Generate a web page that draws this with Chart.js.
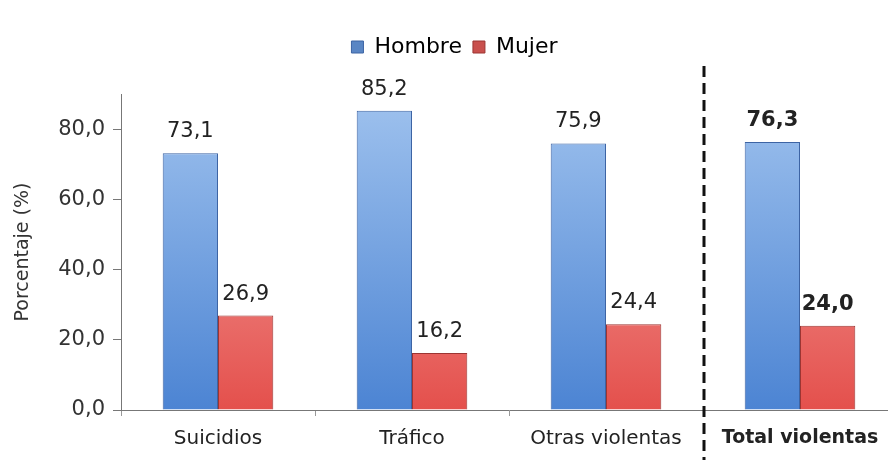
<!DOCTYPE html>
<html>
<head>
<meta charset="utf-8">
<script src="https://cdn.jsdelivr.net/npm/chart.js@4/dist/chart.umd.min.js"></script>
<style>
    html, body { margin: 0; padding: 0; background: #fff; }
    #wrap { width: 888px; height: 460px; overflow: hidden; position: relative; }
    #wrap canvas { display: block; }
</style>
</head>
<body>
<div id="wrap"><canvas id="causas" width="900" height="460"></canvas></div>
<script>
const categories = ["Suicidios", "Tráfico", "Otras violentas", "Total violentas"];
const hombre = [73.1, 85.2, 75.9, 76.3];
const mujer = [26.9, 16.2, 24.4, 24.0];
const yTicks = [0, 20, 40, 60, 80];

const FONT = "'DejaVu Sans', Verdana, sans-serif";

function fmt(v) {
    return v.toFixed(1).replace(".", ",");
}

function barGradient(ctx, top, bottom) {
    const area = ctx.chart.chartArea;
    if (!area) return bottom;
    const g = ctx.chart.ctx.createLinearGradient(0, area.top, 0, area.bottom);
    g.addColorStop(0, top);
    g.addColorStop(1, bottom);
    return g;
}

// value labels above the bars, last category in bold
const valueLabels = {
    id: "valueLabels",
    afterDatasetsDraw(chart) {
        const ctx = chart.ctx;
        ctx.save();
        ctx.fillStyle = "#222";
        ctx.textAlign = "center";
        ctx.textBaseline = "bottom";
        chart.data.datasets.forEach((ds, di) => {
            chart.getDatasetMeta(di).data.forEach((bar, i) => {
                const bold = i === categories.length - 1 ? "bold " : "";
                ctx.font = bold + "21px " + FONT;
                ctx.fillText(fmt(ds.data[i]), bar.x, bar.y - 11);
            });
        });
        ctx.restore();
    }
};

// dashed separator before the total
const separator = {
    id: "separator",
    afterDraw(chart) {
        const x = chart.scales.x;
        const px = (x.getPixelForValue(2) + x.getPixelForValue(3)) / 2 + 1;
        const ctx = chart.ctx;
        ctx.save();
        ctx.strokeStyle = "#111";
        ctx.lineWidth = 3;
        ctx.setLineDash([11, 6]);
        ctx.beginPath();
        ctx.moveTo(px, 66);
        ctx.lineTo(px, chart.height);
        ctx.stroke();
        ctx.restore();
    }
};

// extra room under the legend
const legendGap = {
    id: "legendGap",
    beforeInit(chart) {
        const fit = chart.legend.fit;
        chart.legend.fit = function () {
            fit.call(this);
            this.height += 26;
        };
    }
};

new Chart("causas", {
    type: "bar",
    data: {
        labels: categories,
        datasets: [{
            label: "Hombre",
            data: hombre,
            backgroundColor: (c) => barGradient(c, "#9fc2ee", "#4c84d3"),
            borderColor: "#3d64a4",
            borderWidth: 1,
            categoryPercentage: 0.57,
            barPercentage: 1.0
        }, {
            label: "Mujer",
            data: mujer,
            backgroundColor: (c) => barGradient(c, "#f6b0ae", "#e4504c"),
            borderColor: "#9c3532",
            borderWidth: 1,
            categoryPercentage: 0.57,
            barPercentage: 1.0
        }]
    },
    options: {
        responsive: false,
        animation: false,
        layout: {
            padding: { top: 25, right: 3, left: 12, bottom: 0 }
        },
        plugins: {
            legend: {
                labels: {
                    boxWidth: 12,
                    boxHeight: 12,
                    padding: 11,
                    color: "#222",
                    font: { size: 22, family: FONT },
                    generateLabels: () => [
                        { text: "Hombre", fillStyle: "#5a86c4", strokeStyle: "#3d64a4", lineWidth: 1, datasetIndex: 0 },
                        { text: "Mujer", fillStyle: "#c9504d", strokeStyle: "#9c3532", lineWidth: 1, datasetIndex: 1 }
                    ]
                }
            },
            tooltip: { enabled: false }
        },
        scales: {
            y: {
                min: 0,
                max: 90,
                afterBuildTicks: (scale) => {
                    scale.ticks = yTicks.map(v => ({ value: v }));
                },
                afterFit: (scale) => { scale.width = 109; },
                border: { color: "#777", width: 1 },
                grid: { drawOnChartArea: false, tickLength: 8, color: "#777" },
                ticks: {
                    color: "#333",
                    padding: 8,
                    font: { size: 21, family: FONT },
                    callback: (v) => fmt(v)
                },
                title: {
                    display: true,
                    text: "Porcentaje (%)",
                    color: "#333",
                    padding: 0,
                    font: { size: 19, family: FONT }
                }
            },
            x: {
                afterFit: (scale) => { scale.height = 50; },
                border: { color: "#777", width: 1 },
                grid: { drawOnChartArea: false, offset: true, tickLength: 6, color: "#999" },
                ticks: {
                    color: "#222",
                    padding: 11,
                    font: (c) => c.index === categories.length - 1
                        ? { size: 19, family: FONT, weight: "bold" }
                        : { size: 20, family: FONT, weight: "normal" }
                }
            }
        }
    },
    plugins: [valueLabels, separator, legendGap]
});
</script>
</body>
</html>
